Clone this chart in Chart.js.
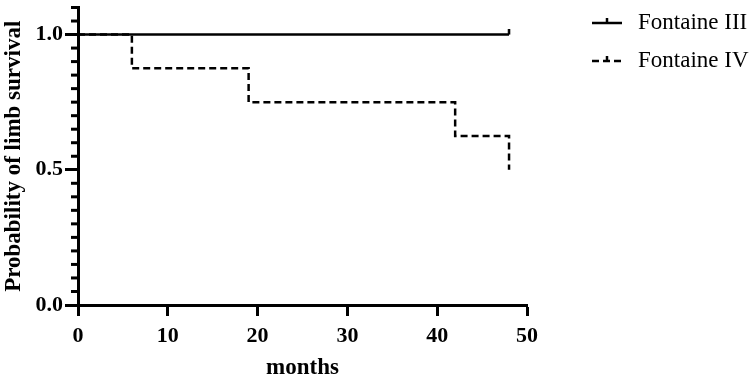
<!DOCTYPE html>
<html>
<head>
<meta charset="utf-8">
<script src="https://cdn.jsdelivr.net/npm/chart.js@4.4.1/dist/chart.umd.min.js"></script>
<style>
  html, body { margin: 0; padding: 0; background: #fff; }
  #wrap { width: 756px; height: 382px; position: relative; }
</style>
</head>
<body>
<div id="wrap"><canvas id="km"></canvas></div>
<script>
// Kaplan-Meier steps
var seriesNames = ['Fontaine III', 'Fontaine IV'];
var monthsIII = [0, 48];
var survivalIII = [1.0, 1.0];
var monthsIV = [0, 6, 19, 42, 48];
var survivalIV = [1.0, 0.875, 0.75, 0.625, 0.5];
var xTicks = [0, 10, 20, 30, 40, 50];
var yTickLabels = ['0.0', '0.5', '1.0'];

var serif = "'Liberation Serif', 'Times New Roman', serif";

function toPoints(xs, ys) {
    return xs.map(function (x, i) { return { x: x, y: ys[i] }; });
}

// censor mark: small tick going up from the curve
var censor = document.createElement('canvas');
censor.width = 4;
censor.height = 12;
var cc = censor.getContext('2d');
cc.strokeStyle = '#000';
cc.lineWidth = 2.5;
cc.beginPath();
cc.moveTo(2, 0);
cc.lineTo(2, 6);
cc.stroke();

function isMajor(v) {
    return yTickLabels.indexOf(v.toFixed(1)) >= 0 && Math.abs(v * 2 - Math.round(v * 2)) < 1e-6;
}

// minor ticks on the y axis (shorter than the labelled ones)
var minorTicks = {
    id: 'minorTicks',
    afterDraw: function (chart) {
        var y = chart.scales.y;
        var ctx = chart.ctx;
        ctx.save();
        ctx.strokeStyle = '#000';
        ctx.lineWidth = 3;
        y.ticks.forEach(function (t) {
            if (isMajor(t.value)) return;
            var py = y.getPixelForValue(t.value);
            ctx.beginPath();
            ctx.moveTo(y.right - 7, py);
            ctx.lineTo(y.right, py);
            ctx.stroke();
        });
        ctx.restore();
    }
};

// legend on the right like the original figure
var sideLegend = {
    id: 'sideLegend',
    afterDraw: function (chart) {
        var ctx = chart.ctx;
        var x0 = 592, x1 = 622, tx = 638;
        var rows = [23, 61];
        ctx.save();
        chart.data.datasets.forEach(function (ds, i) {
            var yy = rows[i];
            ctx.strokeStyle = ds.borderColor;
            ctx.lineWidth = 2.5;
            ctx.setLineDash(ds.borderDash || []);
            ctx.beginPath();
            ctx.moveTo(x0, yy);
            ctx.lineTo(x1, yy);
            ctx.stroke();
            ctx.setLineDash([]);
            ctx.beginPath();
            ctx.moveTo((x0 + x1) / 2, yy - 5);
            ctx.lineTo((x0 + x1) / 2, yy);
            ctx.stroke();
            ctx.fillStyle = '#000';
            ctx.font = "23px " + serif;
            ctx.textBaseline = 'middle';
            ctx.textAlign = 'left';
            ctx.fillText(ds.label, tx, yy);
        });
        ctx.restore();
    }
};

var ctx = document.getElementById('km').getContext('2d');
var chart = new Chart(ctx, {
    type: 'line',
    data: {
        datasets: [{
            label: seriesNames[0],
            data: toPoints(monthsIII, survivalIII),
            borderColor: '#000',
            borderWidth: 2.5,
            stepped: true,
            fill: false,
            pointStyle: censor,
            pointRadius: function (c) { return c.dataIndex === monthsIII.length - 1 ? 5 : 0; }
        }, {
            label: seriesNames[1],
            data: toPoints(monthsIV, survivalIV),
            borderColor: '#000',
            borderWidth: 2.5,
            borderDash: [7, 4],
            stepped: true,
            fill: false,
            pointRadius: 0
        }]
    },
    options: {
        responsive: true,
        maintainAspectRatio: false,
        animation: false,
        layout: { padding: { top: 5, right: 229, left: 0, bottom: 0 } },
        plugins: {
            legend: { display: false },
            tooltip: { enabled: false }
        },
        scales: {
            x: {
                type: 'linear',
                min: 0,
                max: 50,
                afterFit: function (s) { s.height = 77; },
                afterBuildTicks: function (s) {
                    s.ticks = xTicks.map(function (v) { return { value: v }; });
                },
                border: { color: '#000', width: 3 },
                grid: {
                    drawOnChartArea: false,
                    tickLength: 11,
                    tickWidth: 3,
                    tickColor: '#000'
                },
                ticks: {
                    color: '#000',
                    padding: 7,
                    font: { family: serif, size: 22, weight: 'bold' }
                },
                title: {
                    display: true,
                    text: 'months',
                    color: '#000',
                    padding: 0,
                    font: { family: serif, size: 23, weight: 'bold' }
                }
            },
            y: {
                min: 0,
                max: 1.1,
                afterFit: function (s) {
                    s.width = 78;
                    s.paddingTop = 0;
                    s.paddingBottom = 0;
                },
                border: { color: '#000', width: 3 },
                grid: {
                    drawOnChartArea: false,
                    tickLength: 13,
                    tickWidth: 3,
                    tickColor: function (c) {
                        return c.tick && isMajor(c.tick.value) ? '#000' : 'rgba(0,0,0,0)';
                    }
                },
                ticks: {
                    stepSize: 0.05,
                    autoSkip: false,
                    color: '#000',
                    padding: 2,
                    font: { family: serif, size: 22, weight: 'bold' },
                    callback: function (v) { return isMajor(v) ? v.toFixed(1) : ''; }
                },
                title: {
                    display: true,
                    text: 'Probability of limb survival',
                    color: '#000',
                    padding: 0,
                    font: { family: serif, size: 23, weight: 'bold' }
                }
            }
        }
    },
    plugins: [minorTicks, sideLegend]
});
</script>
</body>
</html>
